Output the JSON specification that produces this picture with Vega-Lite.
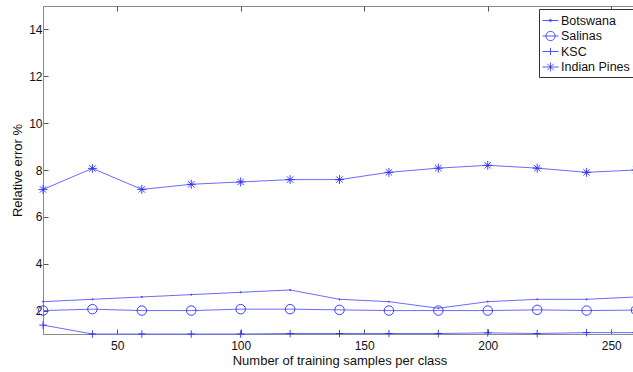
{
  "$schema": "https://vega.github.io/schema/vega-lite/v6.json",
  "width": 593,
  "height": 328,
  "autosize": {"type": "none"},
  "padding": {"left": 43, "top": 6, "right": 0, "bottom": 38},
  "background": "white",
  "config": {
    "view": {"stroke": "#8a8a8a", "strokeWidth": 1},
    "font": "Liberation Sans",
    "axis": {
      "grid": false,
      "domainColor": "#8a8a8a",
      "tickColor": "#555555",
      "labelColor": "#111111",
      "titleColor": "#111111",
      "labelFont": "Liberation Sans",
      "titleFont": "Liberation Sans",
      "labelFontSize": 12,
      "titleFontSize": 13,
      "titleFontWeight": "normal"
    }
  },
  "data": {
    "values": [
      {"x": 20, "series": "Botswana", "y": 2.38},
      {"x": 40, "series": "Botswana", "y": 2.48},
      {"x": 60, "series": "Botswana", "y": 2.58},
      {"x": 80, "series": "Botswana", "y": 2.68},
      {"x": 100, "series": "Botswana", "y": 2.78},
      {"x": 120, "series": "Botswana", "y": 2.88},
      {"x": 140, "series": "Botswana", "y": 2.48},
      {"x": 160, "series": "Botswana", "y": 2.38},
      {"x": 180, "series": "Botswana", "y": 2.1},
      {"x": 200, "series": "Botswana", "y": 2.38},
      {"x": 220, "series": "Botswana", "y": 2.48},
      {"x": 240, "series": "Botswana", "y": 2.48},
      {"x": 260, "series": "Botswana", "y": 2.58},
      {"x": 20, "series": "Salinas", "y": 2.0},
      {"x": 40, "series": "Salinas", "y": 2.06},
      {"x": 60, "series": "Salinas", "y": 2.0},
      {"x": 80, "series": "Salinas", "y": 2.0},
      {"x": 100, "series": "Salinas", "y": 2.06},
      {"x": 120, "series": "Salinas", "y": 2.06},
      {"x": 140, "series": "Salinas", "y": 2.03},
      {"x": 160, "series": "Salinas", "y": 2.0},
      {"x": 180, "series": "Salinas", "y": 2.0},
      {"x": 200, "series": "Salinas", "y": 2.0},
      {"x": 220, "series": "Salinas", "y": 2.03},
      {"x": 240, "series": "Salinas", "y": 2.0},
      {"x": 260, "series": "Salinas", "y": 2.02},
      {"x": 20, "series": "KSC", "y": 1.38},
      {"x": 40, "series": "KSC", "y": 1.0},
      {"x": 60, "series": "KSC", "y": 1.0},
      {"x": 80, "series": "KSC", "y": 1.0},
      {"x": 100, "series": "KSC", "y": 1.0},
      {"x": 120, "series": "KSC", "y": 1.02},
      {"x": 140, "series": "KSC", "y": 1.02},
      {"x": 160, "series": "KSC", "y": 1.02},
      {"x": 180, "series": "KSC", "y": 1.02},
      {"x": 200, "series": "KSC", "y": 1.05},
      {"x": 220, "series": "KSC", "y": 1.02},
      {"x": 240, "series": "KSC", "y": 1.06},
      {"x": 260, "series": "KSC", "y": 1.06},
      {"x": 20, "series": "Indian Pines", "y": 7.17},
      {"x": 40, "series": "Indian Pines", "y": 8.07},
      {"x": 60, "series": "Indian Pines", "y": 7.17},
      {"x": 80, "series": "Indian Pines", "y": 7.39},
      {"x": 100, "series": "Indian Pines", "y": 7.49},
      {"x": 120, "series": "Indian Pines", "y": 7.59},
      {"x": 140, "series": "Indian Pines", "y": 7.59},
      {"x": 160, "series": "Indian Pines", "y": 7.9},
      {"x": 180, "series": "Indian Pines", "y": 8.08},
      {"x": 200, "series": "Indian Pines", "y": 8.2},
      {"x": 220, "series": "Indian Pines", "y": 8.08},
      {"x": 240, "series": "Indian Pines", "y": 7.9},
      {"x": 260, "series": "Indian Pines", "y": 8.0}
    ]
  },
  "layer": [
    {
      "mark": {"type": "line", "color": "#6b6bff", "strokeWidth": 1},
      "encoding": {
        "x": {
          "field": "x", "type": "quantitative",
          "scale": {"domain": [20, 260], "nice": false, "zero": false},
          "axis": {
            "orient": "bottom",
            "values": [50, 100, 150, 200, 250],
            "tickSize": -5,
            "labelPadding": 11,
            "title": "Number of training samples per class",
            "titlePadding": 3
          }
        },
        "y": {
          "field": "y", "type": "quantitative",
          "scale": {"domain": [1, 15], "nice": false, "zero": false},
          "axis": {
            "values": [2, 4, 6, 8, 10, 12, 14],
            "tickSize": -5,
            "labelPadding": 6,
            "title": "Relative error %",
            "titlePadding": 4
          }
        },
        "detail": {"field": "series", "type": "nominal"}
      }
    },
    {
      "mark": {"type": "point", "filled": false, "color": "#2a2aff", "strokeWidth": 0.9, "size": 100, "opacity": 1},
      "encoding": {
        "x": {
          "field": "x", "type": "quantitative",
          "axis": {"orient": "top", "values": [50, 100, 150, 200, 250], "tickSize": -5, "labels": false, "title": null, "domain": false}
        },
        "y": {"field": "y", "type": "quantitative"},
        "shape": {
          "field": "series", "type": "nominal",
          "scale": {
            "domain": ["Botswana", "Salinas", "KSC", "Indian Pines"],
            "range": [
              "M-0.12,0A0.12,0.12,0,1,0,0.12,0A0.12,0.12,0,1,0,-0.12,0",
              "M-0.95,0A0.95,0.95,0,1,0,0.95,0A0.95,0.95,0,1,0,-0.95,0",
              "M-0.75,0L0.75,0M0,-0.75L0,0.75",
              "M-0.9,0L0.9,0M0,-0.9L0,0.9M-0.64,-0.64L0.64,0.64M-0.64,0.64L0.64,-0.64"
            ]
          },
          "legend": null
        }
      }
    },
    {
      "mark": {"type": "point", "filled": false, "color": "#2a2aff", "strokeWidth": 0.9, "opacity": 0},
      "encoding": {
        "x": {"field": "x", "type": "quantitative", "axis": null},
        "y": {"field": "y", "type": "quantitative"},
        "shape": {
          "field": "series", "type": "nominal",
          "scale": {
            "domain": ["Botswana", "Salinas", "KSC", "Indian Pines"],
            "range": [
              "M-1,0L1,0M-0.15,0A0.15,0.15,0,1,0,0.15,0A0.15,0.15,0,1,0,-0.15,0",
              "M-1,0L-0.58,0M0.58,0L1,0M-0.58,0A0.58,0.58,0,1,0,0.58,0A0.58,0.58,0,1,0,-0.58,0M-0.58,0L0.58,0",
              "M-1,0L1,0M0,-0.44L0,0.44",
              "M-1,0L1,0M0,-0.56L0,0.56M-0.4,-0.4L0.4,0.4M-0.4,0.4L0.4,-0.4"
            ]
          },
          "legend": {
            "title": null,
            "orient": "none",
            "legendX": 496,
            "legendY": 3,
            "symbolSize": 256,
            "symbolStrokeColor": "#2a2aff",
            "symbolStrokeWidth": 0.8,
            "symbolOpacity": 1,
            "labelFont": "Liberation Sans",
            "labelFontSize": 12.5,
            "labelColor": "#111111",
            "labelOffset": 2,
            "rowPadding": 0.5,
            "padding": 3,
            "strokeColor": "#333333",
            "fillColor": "white",
            "cornerRadius": 0
          }
        }
      }
    }
  ],
  "resolve": {"scale": {"shape": "independent"}, "axis": {"x": "independent"}}
}
